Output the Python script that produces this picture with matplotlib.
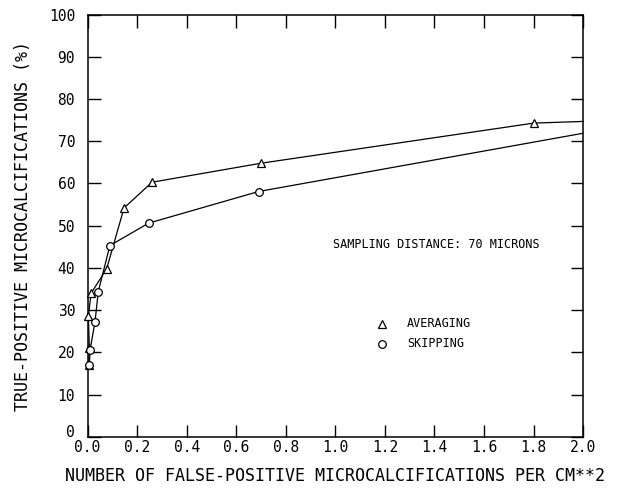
import matplotlib
matplotlib.use("Agg")
import matplotlib.pyplot as plt
from matplotlib.transforms import ScaledTranslation

# ---------- data ----------
avg_x = [0.005, 0.007, 0.003, 0.014, 0.077, 0.147, 0.26, 0.70, 1.80, 2.00]
avg_y = [17.0, 21.0, 28.5, 34.0, 39.8, 54.2, 60.3, 64.8, 74.3, 74.7]

skip_x = [0.007, 0.010, 0.030, 0.043, 0.090, 0.246, 0.69, 2.00]
skip_y = [17.0, 20.6, 27.3, 34.4, 45.3, 50.6, 58.1, 71.9]

x_ticks = [0.0, 0.2, 0.4, 0.6, 0.8, 1.0, 1.2, 1.4, 1.6, 1.8, 2.0]
y_ticks = [0, 10, 20, 30, 40, 50, 60, 70, 80, 90, 100]

font = "DejaVu Sans Mono"

fig = plt.figure(figsize=(6.17, 4.88), dpi=100)
ax = fig.add_axes([0.142, 0.105, 0.803, 0.865])

# averaging: triangles, last point sits on the frame without a marker
ax.plot(avg_x, avg_y, color="black", lw=0.9, marker="^", ms=5.5,
        mfc="white", mec="black", mew=0.9, markevery=list(range(len(avg_x) - 1)),
        clip_on=False, zorder=3)
ax.plot(skip_x, skip_y, color="black", lw=0.9, marker="o", ms=5.5,
        mfc="white", mec="black", mew=0.9, markevery=list(range(len(skip_x) - 1)),
        clip_on=False, zorder=3)

ax.set_xlim(0, 2.0)
ax.set_ylim(0, 100)
ax.set_xticks(x_ticks)
ax.set_yticks(y_ticks)
ax.set_xticklabels([f"{v:.1f}" for v in x_ticks], fontfamily=font, fontsize=10.5)
ax.set_yticklabels([str(v) for v in y_ticks], fontfamily=font, fontsize=10.5)
ax.tick_params(direction="in", length=9, width=1, top=True, right=True)
ax.tick_params(axis="y", pad=9)
ax.tick_params(axis="x", pad=2)
for s in ax.spines.values():
    s.set_linewidth(1.1)

# the "0" on the y axis sits a little above the corner
ylab0 = ax.get_yticklabels()[0]
ylab0.set_transform(ylab0.get_transform() + ScaledTranslation(0, 4 / 72, fig.dpi_scale_trans))

ax.set_xlabel("NUMBER OF FALSE-POSITIVE MICROCALCIFICATIONS PER CM**2",
              fontfamily=font, fontsize=12, labelpad=9)
ax.set_ylabel("TRUE-POSITIVE MICROCALCIFICATIONS (%)",
              fontfamily=font, fontsize=12, labelpad=12)

ax.text(0.99, 45.5, "SAMPLING DISTANCE: 70 MICRONS", fontfamily=font,
        fontsize=8.5, va="center", ha="left")

# hand-drawn style legend
ax.plot([1.19], [26.8], marker="^", ms=5.5, mfc="white", mec="black", mew=0.9, ls="none")
ax.plot([1.19], [22.0], marker="o", ms=5.5, mfc="white", mec="black", mew=0.9, ls="none")
ax.text(1.29, 26.8, "AVERAGING", fontfamily=font, fontsize=8.5, va="center")
ax.text(1.29, 22.0, "SKIPPING", fontfamily=font, fontsize=8.5, va="center")

fig.savefig("out.png", dpi=100)
